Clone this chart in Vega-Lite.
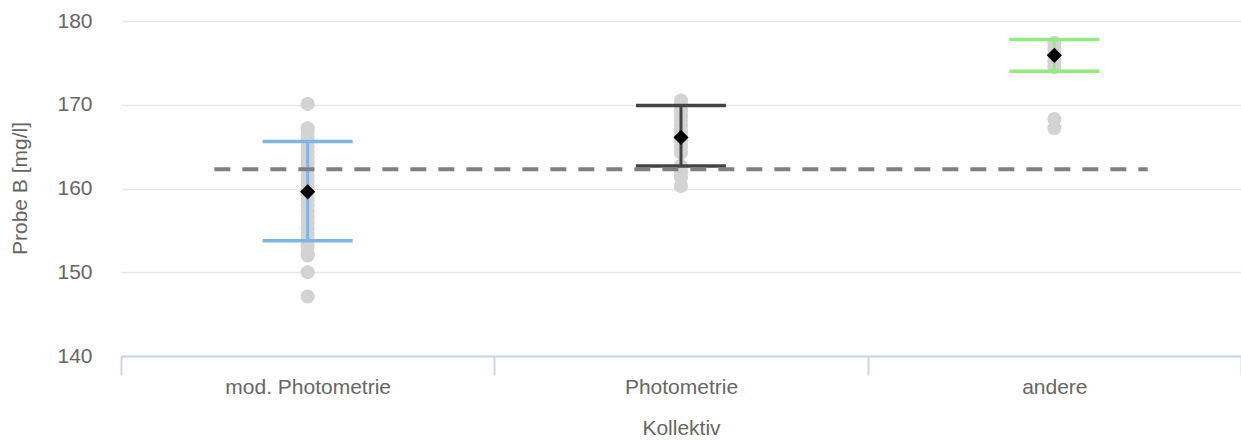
{
  "$schema": "https://vega.github.io/schema/vega-lite/v6.json",
  "width": 1120,
  "height": 335,
  "autosize": "none",
  "padding": {"left": 121, "top": 21, "right": 0, "bottom": 84},
  "background": "white",
  "config": {"view": {"stroke": null}, "font": "Liberation Sans"},
  "datasets": {
    "points": [
      {"Kollektiv": "mod. Photometrie", "value": 170.1},
      {"Kollektiv": "mod. Photometrie", "value": 167.2},
      {"Kollektiv": "mod. Photometrie", "value": 166.9},
      {"Kollektiv": "mod. Photometrie", "value": 166.3},
      {"Kollektiv": "mod. Photometrie", "value": 165.7},
      {"Kollektiv": "mod. Photometrie", "value": 165.0},
      {"Kollektiv": "mod. Photometrie", "value": 164.4},
      {"Kollektiv": "mod. Photometrie", "value": 163.7},
      {"Kollektiv": "mod. Photometrie", "value": 163.0},
      {"Kollektiv": "mod. Photometrie", "value": 162.3},
      {"Kollektiv": "mod. Photometrie", "value": 161.5},
      {"Kollektiv": "mod. Photometrie", "value": 160.8},
      {"Kollektiv": "mod. Photometrie", "value": 160.1},
      {"Kollektiv": "mod. Photometrie", "value": 159.4},
      {"Kollektiv": "mod. Photometrie", "value": 158.7},
      {"Kollektiv": "mod. Photometrie", "value": 158.0},
      {"Kollektiv": "mod. Photometrie", "value": 157.3},
      {"Kollektiv": "mod. Photometrie", "value": 156.6},
      {"Kollektiv": "mod. Photometrie", "value": 155.9},
      {"Kollektiv": "mod. Photometrie", "value": 155.2},
      {"Kollektiv": "mod. Photometrie", "value": 154.5},
      {"Kollektiv": "mod. Photometrie", "value": 153.8},
      {"Kollektiv": "mod. Photometrie", "value": 153.1},
      {"Kollektiv": "mod. Photometrie", "value": 152.3},
      {"Kollektiv": "mod. Photometrie", "value": 152.0},
      {"Kollektiv": "mod. Photometrie", "value": 150.0},
      {"Kollektiv": "mod. Photometrie", "value": 147.1},
      {"Kollektiv": "Photometrie", "value": 170.5},
      {"Kollektiv": "Photometrie", "value": 169.9},
      {"Kollektiv": "Photometrie", "value": 169.3},
      {"Kollektiv": "Photometrie", "value": 168.7},
      {"Kollektiv": "Photometrie", "value": 168.1},
      {"Kollektiv": "Photometrie", "value": 167.5},
      {"Kollektiv": "Photometrie", "value": 166.9},
      {"Kollektiv": "Photometrie", "value": 166.3},
      {"Kollektiv": "Photometrie", "value": 165.6},
      {"Kollektiv": "Photometrie", "value": 165.0},
      {"Kollektiv": "Photometrie", "value": 164.3},
      {"Kollektiv": "Photometrie", "value": 162.7},
      {"Kollektiv": "Photometrie", "value": 162.0},
      {"Kollektiv": "Photometrie", "value": 161.3},
      {"Kollektiv": "Photometrie", "value": 160.3},
      {"Kollektiv": "andere", "value": 177.4},
      {"Kollektiv": "andere", "value": 176.7},
      {"Kollektiv": "andere", "value": 176.0},
      {"Kollektiv": "andere", "value": 175.2},
      {"Kollektiv": "andere", "value": 174.5},
      {"Kollektiv": "andere", "value": 168.3},
      {"Kollektiv": "andere", "value": 167.2}
    ],
    "stats": [
      {"Kollektiv": "mod. Photometrie", "mean": 159.6, "low": 153.75, "high": 165.6},
      {"Kollektiv": "Photometrie", "mean": 166.1, "low": 162.7, "high": 169.9},
      {"Kollektiv": "andere", "mean": 175.9, "low": 174.0, "high": 177.8}
    ],
    "reference": [{"ref": 162.3}]
  },
  "layer": [
    {
      "data": {"name": "points"},
      "mark": {"type": "circle", "size": 200, "color": "#d3d3d3", "opacity": 1},
      "encoding": {
        "x": {
          "field": "Kollektiv",
          "type": "nominal",
          "sort": ["mod. Photometrie", "Photometrie", "andere"],
          "scale": {"domain": ["mod. Photometrie", "Photometrie", "andere"], "paddingInner": 0, "paddingOuter": 0},
          "axis": {
            "title": "Kollektiv",
            "tickBand": "extent",
            "grid": false,
            "domainColor": "#ccd6eb",
            "domainWidth": 2,
            "tickColor": "#ccd6eb",
            "tickWidth": 2,
            "tickSize": 19,
            "labelAngle": 0,
            "labelFontSize": 21,
            "labelColor": "#666666",
            "labelPadding": 1,
            "titleFontSize": 21,
            "titleFontWeight": "normal",
            "titleColor": "#666666",
            "titleBaseline": "middle",
            "titleY": 72
          }
        },
        "y": {
          "field": "value",
          "type": "quantitative",
          "scale": {"domain": [140, 180], "nice": false, "zero": false},
          "axis": {
            "title": "Probe B [mg/l]",
            "values": [140, 150, 160, 170, 180],
            "grid": true,
            "gridColor": "#e6e6e6",
            "gridWidth": 1.5,
            "domain": false,
            "ticks": false,
            "labelFontSize": 21,
            "labelColor": "#666666",
            "labelPadding": 29,
            "titleFontSize": 21,
            "titleFontWeight": "normal",
            "titleColor": "#666666",
            "titleX": -101,
            "titleY": 167,
            "titleAlign": "center",
            "titleBaseline": "middle"
          }
        }
      }
    },
    {
      "data": {"name": "stats"},
      "mark": {"type": "rule", "strokeWidth": 3, "opacity": 1},
      "encoding": {
        "x": {"field": "Kollektiv", "type": "nominal"},
        "y": {"field": "low", "type": "quantitative"},
        "y2": {"field": "high"},
        "color": {
          "field": "Kollektiv",
          "type": "nominal",
          "scale": {"domain": ["mod. Photometrie", "Photometrie", "andere"], "range": ["#7cb5ec", "#434348", "#90ed7d"]},
          "legend": null
        }
      }
    },
    {
      "data": {"name": "stats"},
      "mark": {"type": "tick", "orient": "horizontal", "size": 90, "thickness": 3.5, "opacity": 1},
      "encoding": {
        "x": {"field": "Kollektiv", "type": "nominal"},
        "y": {"field": "low", "type": "quantitative"},
        "color": {"field": "Kollektiv", "type": "nominal", "legend": null}
      }
    },
    {
      "data": {"name": "stats"},
      "mark": {"type": "tick", "orient": "horizontal", "size": 90, "thickness": 3.5, "opacity": 1},
      "encoding": {
        "x": {"field": "Kollektiv", "type": "nominal"},
        "y": {"field": "high", "type": "quantitative"},
        "color": {"field": "Kollektiv", "type": "nominal", "legend": null}
      }
    },
    {
      "data": {"name": "reference"},
      "mark": {"type": "rule", "strokeWidth": 4, "strokeDash": [16, 12], "color": "#808080", "opacity": 1},
      "encoding": {
        "x": {"datum": "mod. Photometrie", "type": "nominal", "bandPosition": 0.25},
        "x2": {"datum": "andere", "bandPosition": 0.75},
        "y": {"field": "ref", "type": "quantitative"}
      }
    },
    {
      "data": {"name": "stats"},
      "mark": {"type": "point", "shape": "diamond", "filled": true, "size": 230, "color": "#000000", "opacity": 1},
      "encoding": {
        "x": {"field": "Kollektiv", "type": "nominal"},
        "y": {"field": "mean", "type": "quantitative"}
      }
    }
  ]
}
